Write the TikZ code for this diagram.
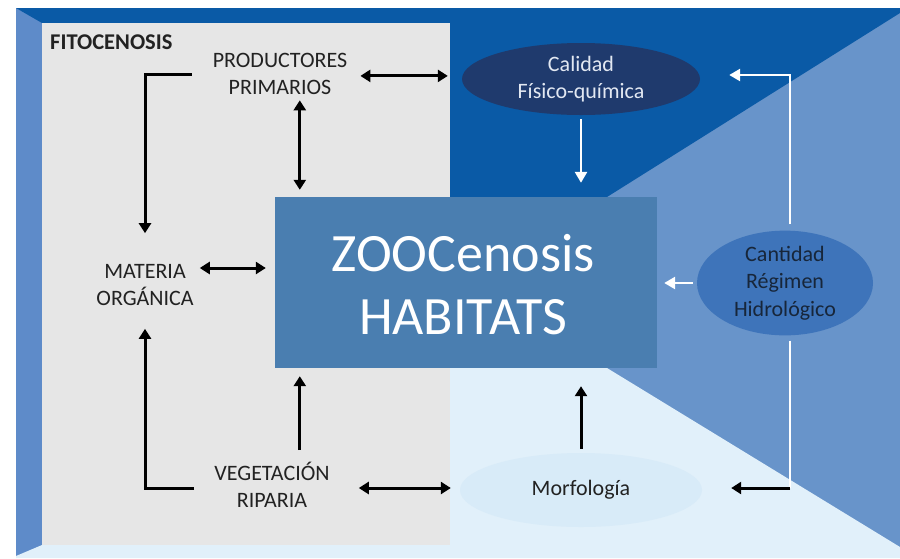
\documentclass[tikz,border=0pt]{standalone}
\usepackage{fontspec}
\setmainfont{Carlito}
\usetikzlibrary{shapes.geometric,arrows.meta}
\definecolor{topblue}{HTML}{0A5AA6}
\definecolor{midblue}{HTML}{6894CA}
\definecolor{leftblue}{HTML}{5E8BC9}
\definecolor{botblue}{HTML}{E1F0FA}
\definecolor{panelgray}{HTML}{E6E6E6}
\definecolor{boxblue}{HTML}{4A7EB0}
\definecolor{calblue}{HTML}{1F3A6D}
\definecolor{canblue}{HTML}{3E74BA}
\definecolor{morblue}{HTML}{D8EBF8}
\definecolor{txtdark}{HTML}{222222}
\definecolor{caltxt}{HTML}{E2E8F2}
\definecolor{cantxt}{HTML}{17263A}
\begin{document}
\begin{tikzpicture}[x=1pt,y=-1pt,
  lbl/.style={align=center,inner sep=2pt,text=txtdark,font=\fontsize{22}{27}\selectfont},
  ell/.style={ellipse,inner sep=0pt,align=center,font=\fontsize{22}{27.5}\selectfont},
  blk/.style={line width=3pt,black},
  ablk/.style={blk,-{Triangle[length=10pt,width=12pt]}},
  dblk/.style={blk,{Triangle[length=10pt,width=12pt]}-{Triangle[length=10pt,width=12pt]}},
  wht/.style={line width=2.6pt,white},
  awht/.style={wht,-{Triangle[length=11pt,width=12pt]}}]
\useasboundingbox (0,0) rectangle (900,558);
\fill[white] (0,0) rectangle (900,558);
\fill[midblue] (16,8) rectangle (900,558);
\fill[leftblue] (16,8) -- (42,23) -- (42,545) -- (16,556) -- cycle;
\fill[topblue] (16,8) -- (900,8) -- (900,13) -- (607,197) -- (42,197) -- (42,23) -- cycle;
\fill[botblue] (16,558) -- (900,558) -- (900,547) -- (607,368) -- (42,368) -- (42,545) -- (16,556) -- cycle;
\fill[panelgray] (42,23) rectangle (450,545);

\node[fill=boxblue,minimum width=382pt,minimum height=171pt,inner sep=0pt] (zoo) at (466,282.5) {};
\node[text=white,align=center,font=\fontsize{54}{63}\selectfont] (zootxt) at (463,284.5) {ZOOCenosis\\HABITATS};

\node[anchor=base west,inner sep=0pt,text=txtdark,font=\fontsize{22.5}{24}\selectfont\bfseries] (fito) at (50,49) {FITOCENOSIS};
\node[lbl] (prod) at (280,74.4) {PRODUCTORES\\PRIMARIOS};
\node[lbl] (mat) at (145,285) {MATERIA\\ORGÁNICA};
\node[lbl] (veg) at (272,485) {VEGETACIÓN\\RIPARIA};

\node[ell,fill=calblue,text=caltxt,minimum width=238pt,minimum height=72pt] (cal) at (581,79) {Calidad\\Físico-química};
\node[ell,fill=canblue,text=cantxt,minimum width=176pt,minimum height=103pt] (can) at (785,283) {Cantidad\\Régimen\\Hidrológico};
\node[ell,fill=morblue,text=txtdark,minimum width=242pt,minimum height=74pt] (mor) at (581,490) {Morfología};

% black connectors
\draw[dblk] ([xshift=11pt,yshift=-1.5pt]prod.east) -- ([xshift=-14pt,yshift=-1.5pt]cal.west |- prod.east);
\draw[dblk,shorten <=3pt] ([xshift=25pt]zoo.north west |- prod.south) -- ([xshift=25pt,yshift=7pt]zoo.north west);
\draw[ablk] ([xshift=-19pt]prod.west) -| ([yshift=29pt]mat.north);
\draw[dblk] ([xshift=4pt,yshift=17pt]mat.east) -- ([xshift=-9pt,yshift=14.5pt]zoo.west);
\draw[ablk] ([xshift=-18pt,yshift=-3pt]veg.west) -| ([yshift=-21pt]mat.south);
\draw[ablk] ([xshift=25pt,yshift=10pt]zoo.south west |- veg.north) -- ([xshift=25pt,yshift=-8pt]zoo.south west);
\draw[dblk] ([xshift=27pt,yshift=-3pt]veg.east) -- ([xshift=-9pt,yshift=2pt]mor.west);
\draw[ablk] ([yshift=4pt]mor.north) -- ([yshift=-18pt]zoo.south -| mor.north);

% white connectors
\draw[awht] ([yshift=-4pt]cal.south) -- ([yshift=14pt]zoo.north -| cal.south);
\draw[awht] ([xshift=5pt,yshift=6pt]can.north) |- ([xshift=29pt,yshift=4pt]cal.east);
\draw[awht] ([xshift=-4pt]can.west) -- ([xshift=7pt]zoo.east |- can.west);
\draw[wht] ([xshift=5pt,yshift=-5pt]can.south) -- ([xshift=5pt,yshift=2pt]can.south |- mor.east);
\draw[ablk,line join=round] ([xshift=5pt,yshift=2pt]can.south |- mor.east) -- ([xshift=29pt,yshift=2pt]mor.east);
\end{tikzpicture}
\end{document}
